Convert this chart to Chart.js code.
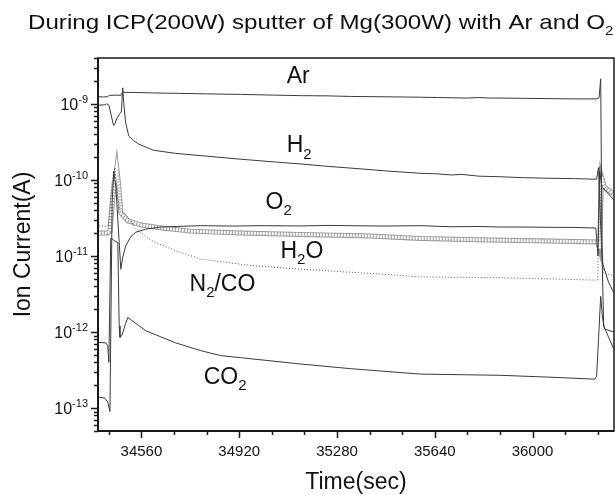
<!DOCTYPE html>
<html>
<head>
<meta charset="utf-8">
<script src="https://cdn.jsdelivr.net/npm/chart.js@4.4.1/dist/chart.umd.min.js"></script>
<style>
  html, body { margin: 0; padding: 0; background: #fff; }
</style>
</head>
<body>
<canvas id="myChart" width="615" height="495"></canvas>
<script>
// times in seconds, ion currents in amps
var timeAr = [34403, 34420, 34436, 34441, 34470, 34484, 34489, 34491, 34494, 34500, 34530, 34600, 34700, 34800, 34925, 35050, 35145, 35250, 35329, 35420, 35512, 35586, 35650, 35700, 35760, 35800, 35843, 35880, 35960, 36064, 36150, 36236, 36245, 36251, 36256, 36262, 36299];
var ionAr = [1.24e-9, 1.23e-9, 1.24e-9, 1.29e-9, 1.30e-9, 1.29e-9, 1.38e-9, 1.45e-9, 1.42e-9, 1.41e-9, 1.41e-9, 1.39e-9, 1.37e-9, 1.35e-9, 1.33e-9, 1.30e-9, 1.28e-9, 1.27e-9, 1.25e-9, 1.24e-9, 1.23e-9, 1.22e-9, 1.21e-9, 1.20e-9, 1.19e-9, 1.21e-9, 1.19e-9, 1.19e-9, 1.18e-9, 1.17e-9, 1.16e-9, 1.16e-9, 1.2e-9, 2.13e-9, 1e-11, 1.2e-12, 6e-13];

var timeH2 = [34403, 34425, 34432, 34440, 34447, 34455, 34458, 34462, 34470, 34480, 34486, 34491, 34495, 34502, 34513, 34530, 34550, 34605, 34686, 34800, 34925, 35050, 35145, 35250, 35329, 35450, 35586, 35650, 35700, 35740, 35800, 35880, 35960, 36064, 36150, 36236, 36243, 36250, 36258, 36280, 36299];
var ionH2 = [9.6e-10, 9.7e-10, 1.0e-9, 9.6e-10, 7.5e-10, 5.6e-10, 5.2e-10, 5.5e-10, 6.5e-10, 7.4e-10, 7.8e-10, 1.62e-9, 1.0e-9, 5.6e-10, 3.8e-10, 3.3e-10, 2.95e-10, 2.45e-10, 2.23e-10, 2.05e-10, 1.87e-10, 1.72e-10, 1.62e-10, 1.5e-10, 1.43e-10, 1.32e-10, 1.22e-10, 1.2e-10, 1.16e-10, 1.18e-10, 1.12e-10, 1.1e-10, 1.07e-10, 1.05e-10, 1.04e-10, 1.02e-10, 1.45e-10, 3e-11, 8e-12, 4.5e-12, 3.3e-12];

var timeO2 = [34403, 34425, 34436, 34444, 34448, 34452, 34458, 34466, 34473, 34484, 34491, 34502, 34521, 34539, 34576, 34631, 34778, 34900, 35000, 35145, 35250, 35329, 35450, 35586, 35700, 35800, 35880, 35960, 36064, 36150, 36233, 36241, 36247, 36256, 36299];
var ionO2 = [1.4e-13, 1.35e-13, 1.2e-13, 9e-14, 2e-12, 5e-11, 1.3e-10, 8e-11, 3e-11, 6.7e-12, 9.5e-12, 1.35e-11, 1.8e-11, 2.05e-11, 2.25e-11, 2.4e-11, 2.5e-11, 2.47e-11, 2.5e-11, 2.48e-11, 2.52e-11, 2.5e-11, 2.47e-11, 2.5e-11, 2.42e-11, 2.44e-11, 2.4e-11, 2.4e-11, 2.38e-11, 2.37e-11, 2.33e-11, 1.0e-11, 1.3e-10, 8e-11, 5.5e-11];

var timeH2O = [34403, 34436, 34444, 34455, 34469, 34477, 34484, 34510, 34560, 34620, 34741, 34925, 35145, 35402, 35586, 35843, 36064, 36240, 36247, 36254, 36265, 36299];
var ionH2O = [2.0e-11, 2.0e-11, 2.1e-11, 6e-11, 1.43e-10, 8e-11, 3.7e-11, 2.9e-11, 2.55e-11, 2.37e-11, 2.12e-11, 2.0e-11, 1.92e-11, 1.83e-11, 1.7e-11, 1.62e-11, 1.57e-11, 1.53e-11, 1.25e-11, 1.1e-10, 8e-11, 6.5e-11];

var timeN2CO = [34403, 34436, 34440, 34451, 34462, 34469, 34480, 34502, 34539, 34594, 34686, 34778, 34962, 35145, 35402, 35586, 35843, 36064, 36240, 36247, 36254, 36262, 36299];
var ionN2CO = [2.48e-11, 2.45e-11, 3e-11, 9e-11, 1.45e-10, 7e-11, 4e-11, 3.5e-11, 2.3e-11, 1.6e-11, 1.17e-11, 9.1e-12, 7.5e-12, 6.7e-12, 5.9e-12, 5.3e-12, 5.2e-12, 5.0e-12, 4.8e-12, 1.5e-10, 2.0e-11, 6e-12, 5.5e-12];

var timeCO2 = [34403, 34429, 34436, 34440, 34447, 34451, 34458, 34473, 34478, 34481, 34488, 34502, 34510, 34521, 34576, 34686, 34778, 34851, 34925, 35145, 35329, 35586, 35880, 36064, 36229, 36236, 36251, 36258, 36265, 36299];
var ionCO2 = [7.3e-13, 7.2e-13, 6.5e-13, 4e-13, 1.7e-11, 1.7e-11, 1.6e-11, 1.5e-11, 1.2e-12, 8.5e-13, 9e-13, 1.3e-12, 1.56e-12, 1.45e-12, 1.04e-12, 7.2e-13, 5.7e-13, 4.9e-13, 4.6e-13, 3.8e-13, 3.3e-13, 2.8e-13, 2.7e-13, 2.55e-13, 2.4e-13, 2.6e-13, 2.95e-12, 1.5e-12, 1.1e-12, 1.0e-12];

var xMajorTicks = [34560, 34920, 35280, 35640, 36000];
var xMinorTicks = [34440, 34680, 34800, 35040, 35160, 35400, 35520, 35760, 35880, 36120, 36240];
var yDecades = [-13, -12, -11, -10, -9];

function pts(t, v) {
  return t.map(function (x, i) { return { x: x, y: v[i] }; });
}

var FONT = "'Liberation Sans', Arial, sans-serif";
var INK = '#111';

// text with subscripts: parts = [[text, isSub], ...]
function richText(ctx, parts, x, y, size) {
  parts.forEach(function (p) {
    var s = p[1] ? Math.round(size * 0.64) : size;
    ctx.font = s + 'px ' + FONT;
    ctx.fillText(p[0], x, p[1] ? y + size * 0.27 : y);
    x += ctx.measureText(p[0]).width;
  });
}

// in-plot curve labels, anchored in data coordinates (left edge, baseline)
var curveLabels = [
  { at: [35095, 1.87e-9], parts: [['Ar', false]] },
  { at: [35095, 2.3e-10], parts: [['H', false], ['2', true]] },
  { at: [35017, 4.15e-11], parts: [['O', false], ['2', true]] },
  { at: [35072, 9.5e-12], parts: [['H', false], ['2', true], ['O', false]] },
  { at: [34737, 3.48e-12], parts: [['N', false], ['2', true], ['/CO', false]] },
  { at: [34789, 2.1e-13], parts: [['CO', false], ['2', true]] }
];

var decorations = {
  id: 'decorations',
  beforeDraw: function (chart) {
    var ctx = chart.ctx;
    ctx.save();
    ctx.fillStyle = '#fff';
    ctx.fillRect(0, 0, chart.width, chart.height);
    ctx.restore();
  },
  afterDraw: function (chart) {
    var ctx = chart.ctx, a = chart.chartArea;
    var xs = chart.scales.x, ys = chart.scales.y;
    ctx.save();
    ctx.fillStyle = INK;
    ctx.strokeStyle = '#1a1a1a';

    // frame
    ctx.lineWidth = 1.5;
    ctx.strokeRect(a.left, a.top, a.right - a.left, a.bottom - a.top);
    ctx.lineWidth = 2;
    ctx.beginPath();
    ctx.moveTo(a.left, a.top);
    ctx.lineTo(a.left, a.bottom);
    ctx.lineTo(a.right, a.bottom);
    ctx.stroke();

    // x ticks
    ctx.lineWidth = 1.5;
    xMajorTicks.concat(xMinorTicks).forEach(function (t) {
      var px = Math.round(xs.getPixelForValue(t)) + 0.5;
      var len = xMajorTicks.indexOf(t) >= 0 ? 7 : 4;
      ctx.beginPath();
      ctx.moveTo(px, a.bottom);
      ctx.lineTo(px, a.bottom + len);
      ctx.stroke();
    });
    ctx.font = '15px ' + FONT;
    ctx.textAlign = 'center';
    ctx.textBaseline = 'alphabetic';
    xMajorTicks.forEach(function (t) {
      ctx.fillText(String(t), xs.getPixelForValue(t), a.bottom + 25);
    });

    // y ticks (log decades with minor 2..9)
    for (var d = -14; d <= -9; d++) {
      for (var m = 1; m <= 9; m++) {
        var v = m * Math.pow(10, d);
        if (v < ys.min || v > ys.max) continue;
        var py = Math.round(ys.getPixelForValue(v)) + 0.5;
        var len = m === 1 ? 7 : 4;
        ctx.beginPath();
        ctx.moveTo(a.left, py);
        ctx.lineTo(a.left - len, py);
        ctx.stroke();
      }
    }
    ctx.textAlign = 'left';
    yDecades.forEach(function (e) {
      var py = ys.getPixelForValue(Math.pow(10, e));
      var sup = '-' + Math.abs(e);
      ctx.font = '16px ' + FONT;
      var w1 = ctx.measureText('10').width;
      ctx.font = '11px ' + FONT;
      var w2 = ctx.measureText(sup).width;
      var x0 = a.left - 10 - w1 - w2;
      ctx.font = '16px ' + FONT;
      ctx.fillText('10', x0, py + 6);
      ctx.font = '11px ' + FONT;
      ctx.fillText(sup, x0 + w1, py - 1);
    });

    // curve labels
    ctx.textAlign = 'left';
    curveLabels.forEach(function (l) {
      richText(ctx, l.parts, xs.getPixelForValue(l.at[0]), ys.getPixelForValue(l.at[1]), 23);
    });

    // title, stretched a little like the original; it runs off the right edge
    ctx.save();
    ctx.translate(28, 29);
    ctx.scale(1.15, 1);
    richText(ctx, [['During ICP(200W) sputter of Mg(300W) with Ar and O', false], ['2', true]], 0, 0, 21);
    ctx.restore();

    // axis titles
    ctx.font = '23px ' + FONT;
    ctx.textAlign = 'center';
    ctx.fillText('Time(sec)', (a.left + a.right) / 2, 489);
    ctx.save();
    ctx.translate(30, (a.top + a.bottom) / 2);
    ctx.rotate(-Math.PI / 2);
    ctx.fillText('Ion Current(A)', 0, 0);
    ctx.restore();

    ctx.restore();
  }
};

var LINE = '#3a3a3a';
var ctxMain = document.getElementById('myChart').getContext('2d');
var myChart = new Chart(ctxMain, {
  type: 'line',
  data: {
    datasets: [
      { label: 'Ar', data: pts(timeAr, ionAr), borderColor: LINE, borderWidth: 1, order: 1 },
      { label: 'H2', data: pts(timeH2, ionH2), borderColor: LINE, borderWidth: 1, order: 1 },
      { label: 'O2', data: pts(timeO2, ionO2), borderColor: LINE, borderWidth: 1, order: 1 },
      { label: 'N2/CO', data: pts(timeN2CO, ionN2CO), borderColor: '#555', borderWidth: 1, borderDash: [1, 2], order: 1 },
      { label: 'CO2', data: pts(timeCO2, ionCO2), borderColor: LINE, borderWidth: 1, order: 1 },
      // H2O is drawn as a row of small open squares: grey band with a dashed white core
      { label: 'H2O', data: pts(timeH2O, ionH2O), borderColor: '#9a9a9a', borderWidth: 5, order: 3 },
      { label: 'H2O core', data: pts(timeH2O, ionH2O), borderColor: '#fff', borderWidth: 3, borderDash: [2, 1], order: 2 }
    ]
  },
  options: {
    responsive: false,
    animation: false,
    devicePixelRatio: 1,
    layout: { padding: { left: 98, top: 58, right: 1, bottom: 64 } },
    elements: { point: { radius: 0 }, line: { tension: 0 } },
    plugins: { legend: { display: false }, title: { display: false }, tooltip: { enabled: false } },
    scales: {
      x: { type: 'linear', display: false, min: 34400, max: 36300 },
      y: { type: 'logarithmic', display: false, min: 5e-14, max: 4e-9 }
    }
  },
  plugins: [decorations]
});
</script>
</body>
</html>
